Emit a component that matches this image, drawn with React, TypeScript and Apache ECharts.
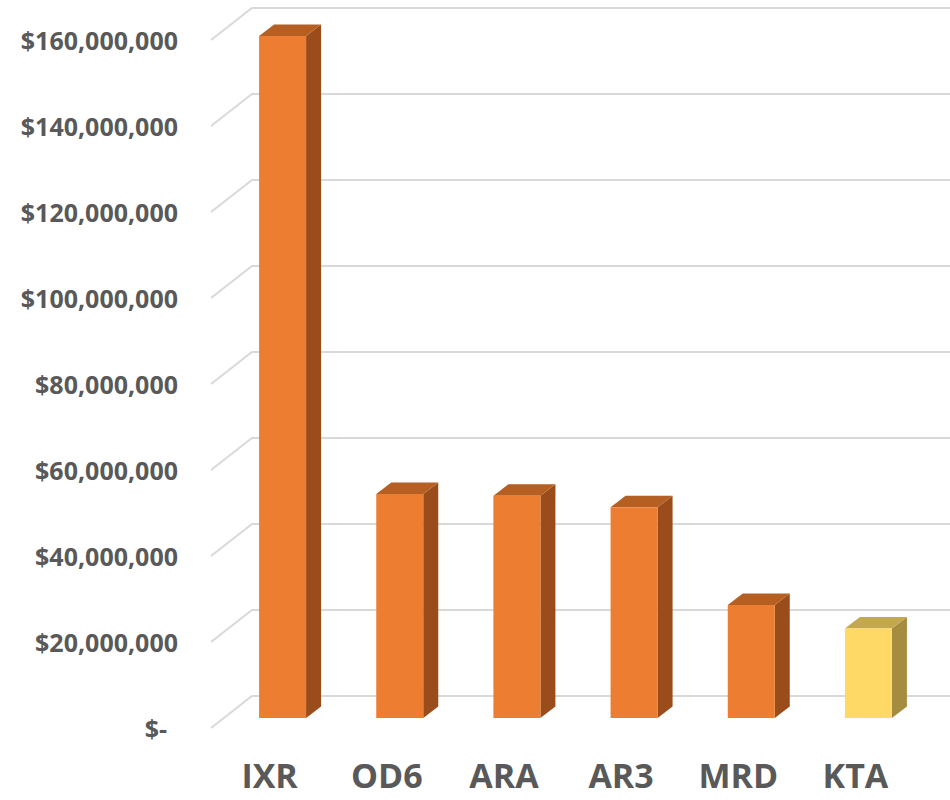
import React, { useEffect, useRef } from "react";
import * as echarts from "echarts";

const categories = ["IXR", "OD6", "ARA", "AR3", "MRD", "KTA"];
const values = [158600000, 52100000, 51700000, 49000000, 26300000, 20800000];
const tickValues = [0, 20000000, 40000000, 60000000, 80000000, 100000000, 120000000, 140000000, 160000000];
const highlighted = "KTA";

const FONT = "'Open Sans', 'Noto Sans', sans-serif";

export default function App() {
  const ref = useRef<HTMLDivElement>(null);
  useEffect(() => {
    if (!ref.current) return;
    const chart = echarts.init(ref.current, undefined, { renderer: "svg" });
    const depthX = 41;
    const depthY = -32;
    const barFrontX = 13;
    const barFrontY = -10;
    const barW = 47;
    const bdx = 15;
    const bdy = -11.5;

    chart.setOption({
      animation: false,
      backgroundColor: "#ffffff",
      grid: { left: 211, right: 36, top: 40, bottom: 72, containLabel: false },
      xAxis: {
        type: "category",
        data: categories,
        axisLine: { show: false },
        axisTick: { show: false },
        axisLabel: {
          color: "#595959",
          fontFamily: FONT,
          fontWeight: "bold",
          fontSize: 34,
          lineHeight: 34,
          margin: 30,
        },
      },
      yAxis: {
        type: "value",
        min: 0,
        max: 160000000,
        interval: 20000000,
        axisLine: { show: false },
        axisTick: { show: false },
        splitLine: { show: false },
        axisLabel: {
          margin: 33,
          color: "#595959",
          fontFamily: FONT,
          fontWeight: "bold",
          fontSize: 25,
          formatter: (v: number) =>
            v === 0 ? "{z|$-}" : "$" + v.toLocaleString("en-US"),
          rich: {
            z: {
              color: "#595959",
              fontFamily: FONT,
              fontWeight: "bold",
              fontSize: 25,
              padding: [0, 11, 0, 0],
            },
          },
        },
      },
      series: [
        {
          type: "custom",
          silent: true,
          z: 1,
          data: tickValues.map((v) => [0, v]),
          renderItem: (params: any, api: any) => {
            const cs = params.coordSys;
            const p = api.coord([0, api.value(1)]);
            const y = p[1];
            return {
              type: "polyline",
              shape: {
                points: [
                  [cs.x, y],
                  [cs.x + depthX, y + depthY],
                  [950, y + depthY],
                ],
              },
              style: { stroke: "#D9D9D9", lineWidth: 2, fill: "none" },
            };
          },
        },
        {
          type: "custom",
          z: 2,
          data: values.map((v, i) => [i, v]),
          renderItem: (params: any, api: any) => {
            const i = api.value(0);
            const top = api.coord([i, api.value(1)]);
            const base = api.coord([i, 0]);
            const x = top[0] + barFrontX - barW / 2;
            const yT = top[1] + barFrontY;
            const yB = base[1] + barFrontY;
            const isHi = categories[i] === highlighted;
            const front = isHi ? "#FFD966" : "#ED7D31";
            const topC = isHi ? "#C4A84F" : "#B55F22";
            const side = isHi ? "#A68C3E" : "#9A4D1B";
            return {
              type: "group",
              children: [
                {
                  type: "polygon",
                  shape: {
                    points: [
                      [x + barW, yT],
                      [x + barW + bdx, yT + bdy],
                      [x + barW + bdx, yB + bdy],
                      [x + barW, yB],
                    ],
                  },
                  style: { fill: side },
                },
                {
                  type: "polygon",
                  shape: {
                    points: [
                      [x, yT],
                      [x + bdx, yT + bdy],
                      [x + barW + bdx, yT + bdy],
                      [x + barW, yT],
                    ],
                  },
                  style: { fill: topC },
                },
                {
                  type: "rect",
                  shape: { x: x, y: yT, width: barW, height: yB - yT },
                  style: { fill: front },
                },
              ],
            };
          },
        },
      ],
    });
    return () => chart.dispose();
  }, []);
  return (
    <div
      ref={ref}
      style={{ position: "absolute", left: 0, top: 0, width: 950, height: 800 }}
    />
  );
}
